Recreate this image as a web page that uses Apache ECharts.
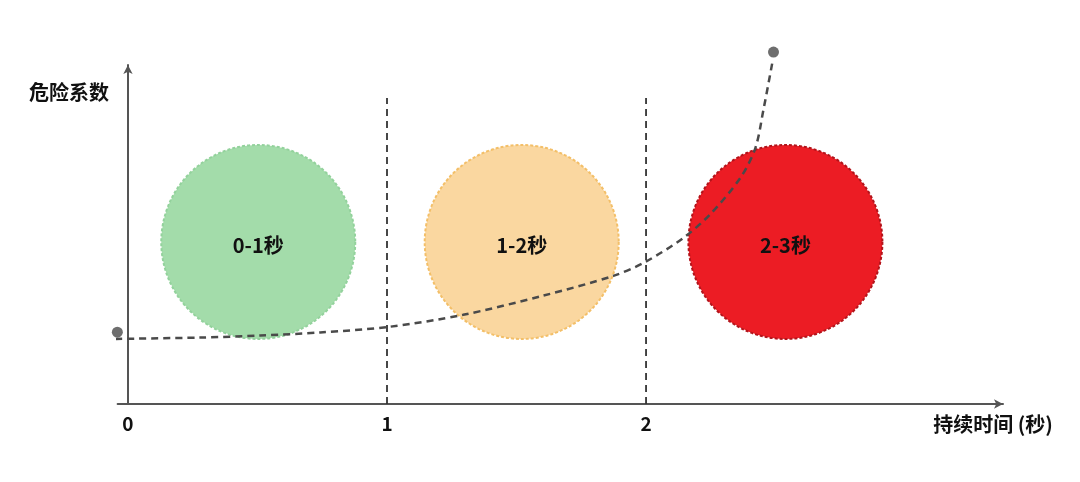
<!DOCTYPE html>
<html>
<head>
<meta charset="utf-8">
<script src="https://cdn.jsdelivr.net/npm/echarts@6/dist/echarts.min.js"></script>
<style>html,body{margin:0;padding:0;background:#fff;}#c{width:1080px;height:482px;}</style>
</head>
<body>
<div id="c"></div>
<script>
// ---- data ----
const xTickLabels = [0, 1, 2];
const periodLabels = ['0-1秒', '1-2秒', '2-3秒'];
const periodX = [0.503, 1.52, 2.538];
const periodY = [4.78, 4.78, 4.78];
const periodColors = ['#a3dcaa', '#fad7a0', '#ec1c24'];
const periodBorders = ['#93d29c', '#f3bf68', '#b3141b'];
const dividerX = [1, 2];
const dividerTop = 9.03;
const curveX = [-0.049, 0.279, 0.511, 0.742, 1.001, 1.294, 1.6, 1.874, 1.997, 2.144, 2.248, 2.364, 2.422, 2.453, 2.488];
const curveY = [1.92, 1.96, 2.02, 2.11, 2.27, 2.63, 3.19, 3.78, 4.19, 4.9, 5.6, 6.67, 7.55, 8.67, 10.09];
const endDotsX = [-0.041, 2.492];
const endDotsY = [2.12, 10.38];
const xName = '持续时间 (秒)';
const yName = '危险系数';

const font = '"Noto Sans CJK SC", "Noto Sans", sans-serif';
const chart = echarts.init(document.getElementById('c'));

const series = [];
// circles
periodLabels.forEach((lab, i) => {
  series.push({
    type: 'scatter',
    symbol: 'circle',
    symbolSize: 194,
    z: 2,
    silent: true,
    data: [[periodX[i], periodY[i]]],
    itemStyle: {color: periodColors[i], borderColor: periodBorders[i], borderWidth: 2, borderType: [3, 2], opacity: 1},
    label: {show: true, position: 'inside', formatter: lab, color: '#111', fontSize: 20, fontWeight: 'bold', fontFamily: font, offset: [0, 3]}
  });
});
// vertical dividers
dividerX.forEach(x => {
  series.push({
    type: 'line',
    z: 3,
    silent: true,
    symbol: 'none',
    data: [[x, 0], [x, dividerTop]],
    lineStyle: {color: '#333', width: 1.8, type: [7, 5]}
  });
});
// curve
series.push({
  type: 'line',
  z: 4,
  clip: false,
  silent: true,
  symbol: 'none',
  smooth: 0.3,
  data: curveX.map((x, i) => [x, curveY[i]]),
  lineStyle: {color: '#4a4a4a', width: 2.5, type: [7, 5]}
});
// end dots
series.push({
  type: 'scatter',
  z: 5,
  clip: false,
  silent: true,
  symbolSize: 11,
  data: endDotsX.map((x, i) => [x, endDotsY[i]]),
  itemStyle: {color: '#4a4a4a'}
});

chart.setOption({
  animation: false,
  backgroundColor: '#fff',
  grid: {left: 117.6, right: 77, top: 65, bottom: 78, containLabel: false},
  xAxis: {
    type: 'value', min: -0.04, max: 3.378,
    name: xName, nameLocation: 'end', nameGap: -10,
    nameTextStyle: {color: '#111', fontSize: 20, fontWeight: 'bold', fontFamily: font, align: 'center', verticalAlign: 'top', padding: [10, 0, 0, 0]},
    axisLine: {show: true, onZero: true, symbol: ['none', 'arrow'], symbolSize: [7, 9], lineStyle: {color: '#555', width: 2}},
    axisTick: {show: false},
    splitLine: {show: false},
    axisLabel: {customValues: xTickLabels, color: '#111', fontSize: 19, fontWeight: 'bold', fontFamily: font, margin: 10, formatter: v => String(v)}
  },
  yAxis: {
    type: 'value', min: 0, max: 10,
    name: yName, nameLocation: 'end', nameGap: -27,
    nameTextStyle: {color: '#111', fontSize: 20, fontWeight: 'bold', fontFamily: font, align: 'right', verticalAlign: 'middle', padding: [0, 19, 0, 0]},
    axisLine: {show: true, onZero: true, symbol: ['none', 'arrow'], symbolSize: [7, 9], lineStyle: {color: '#555', width: 2}},
    axisTick: {show: false},
    splitLine: {show: false},
    axisLabel: {show: false}
  },
  series: series
});
</script>
</body>
</html>
